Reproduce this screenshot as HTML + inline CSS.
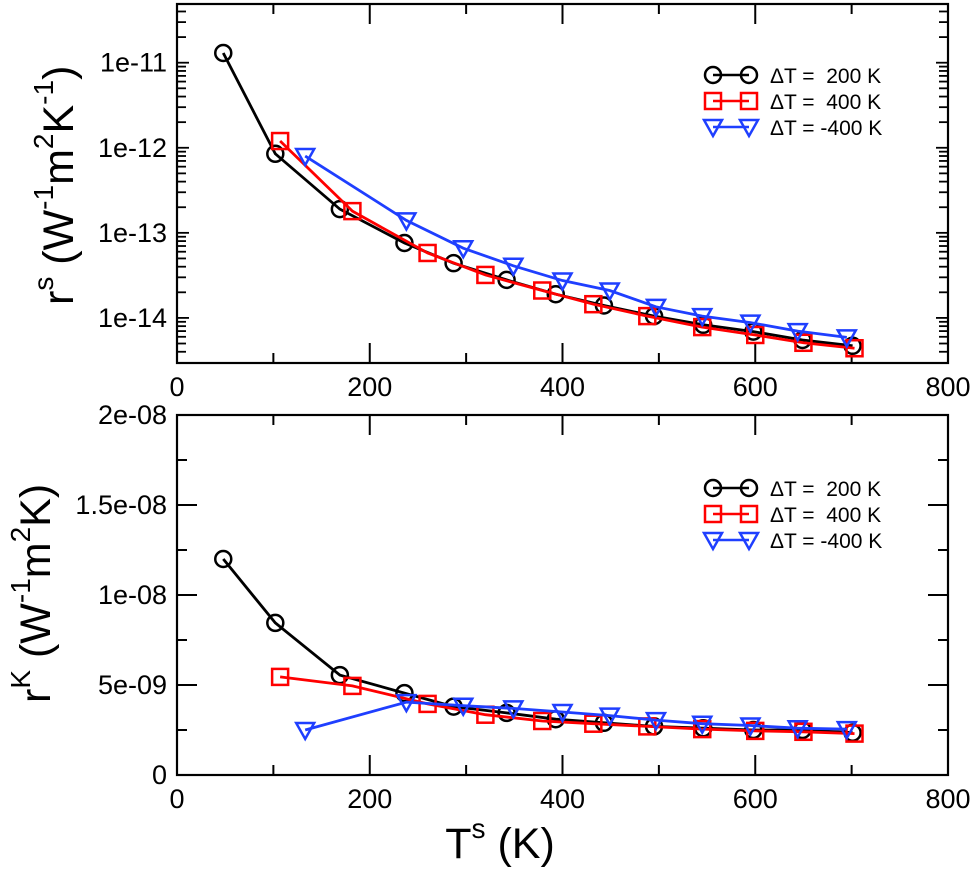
<!DOCTYPE html>
<html><head><meta charset="utf-8"><style>
html,body{margin:0;padding:0;background:#fff;}
svg{display:block;font-family:"Liberation Sans",Arial,sans-serif;}
text{white-space:pre;}
</style></head><body>
<svg id="chart" width="975" height="872" viewBox="0 0 975 872"></svg>
<script>
const xTicks=[0,200,400,600,800];
const xMinor=[100,300,500,700];
const topTickLabels=["1e-11","1e-12","1e-13","1e-14"];
const topTickExps=[-11,-12,-13,-14];
const botTickVals=[0,5e-9,1e-8,1.5e-8,2e-8];
const botTickLabels=["0","5e-09","1e-08","1.5e-08","2e-08"];
const legendLabels=["\u0394T =  200 K","\u0394T =  400 K","\u0394T = -400 K"];
const seriesColors=["#000","#f00","#1f3fff"];
const markerTypes=["circle","square","tri"];

const blackX=[48,102,169,236,287,342,393,443,495,546,598,649,701];
const blackTop=[1.3e-11,8.5e-13,1.9e-13,7.6e-14,4.4e-14,2.8e-14,1.9e-14,1.4e-14,1.05e-14,8.3e-15,6.9e-15,5.5e-15,4.7e-15];
const blackBot=[12.0e-9,8.45e-9,5.55e-9,4.55e-9,3.8e-9,3.45e-9,3.1e-9,2.9e-9,2.7e-9,2.6e-9,2.5e-9,2.5e-9,2.35e-9];
const redX=[107,182,260,320,379,432,488,545,600,650,703];
const redTop=[1.2e-12,1.8e-13,5.8e-14,3.2e-14,2.1e-14,1.45e-14,1.05e-14,7.8e-15,6.3e-15,5.1e-15,4.4e-15];
const redBot=[5.45e-9,4.95e-9,3.95e-9,3.35e-9,3.0e-9,2.85e-9,2.7e-9,2.55e-9,2.45e-9,2.4e-9,2.3e-9];
const blueX=[133,238,297,349,400,449,497,545,595,644,695];
const blueTop=[8e-13,1.4e-13,6.6e-14,4.1e-14,2.75e-14,2.1e-14,1.35e-14,1.05e-14,8.8e-15,7e-15,5.9e-15];
const blueBot=[2.5e-9,4.05e-9,3.85e-9,3.7e-9,3.5e-9,3.3e-9,3.05e-9,2.85e-9,2.75e-9,2.6e-9,2.55e-9];

const NS="http://www.w3.org/2000/svg";
const svg=document.getElementById('chart');
function mk(tag,attrs,parent){const e=document.createElementNS(NS,tag);for(const k in attrs)e.setAttribute(k,attrs[k]);(parent||svg).appendChild(e);return e;}
const X0=177,X1=948;
const xs=v=>X0+(v/800)*(X1-X0);
const T0=4,T1=363;
const topLogMax=-10.31,topLogMin=-14.53;
const ysTop=v=>T0+(topLogMax-Math.log10(v))/(topLogMax-topLogMin)*(T1-T0);
const B0=415,B1=775;
const ysBot=v=>B1-(v/2e-8)*(B1-B0);

function drawFrame(y0,y1,name){
  const r=mk('rect',{x:X0,y:y0,width:X1-X0,height:y1-y0,fill:'none',stroke:'#000','stroke-width':2.2});
  
  
  const g=mk('g',{stroke:'#000','stroke-width':2});
  
  
  xTicks.forEach(v=>{const x=xs(v);mk('line',{x1:x,x2:x,y1:y1,y2:y1-20},g);mk('line',{x1:x,x2:x,y1:y0,y2:y0+20},g);});
  xMinor.forEach(v=>{const x=xs(v);mk('line',{x1:x,x2:x,y1:y1,y2:y1-10},g);mk('line',{x1:x,x2:x,y1:y0,y2:y0+10},g);});
  xTicks.forEach(v=>{const t=mk('text',{x:xs(v),y:y1+33,'font-size':27,'text-anchor':'middle',fill:'#000'});t.textContent=String(v);
    
    });
}
drawFrame(T0,T1,'top-panel');
drawFrame(B0,B1,'bottom-panel');

const gy=mk('g',{stroke:'#000','stroke-width':1.8});


for(let e=-15;e<=-11;e++){for(let m=1;m<10;m++){const v=m*Math.pow(10,e);const y=ysTop(v);if(y<T0+1||y>T1-1)continue;const L=m===1?12:9;
  mk('line',{x1:X0,x2:X0+L,y1:y,y2:y},gy);mk('line',{x1:X1,x2:X1-L,y1:y,y2:y},gy);}}
topTickExps.forEach((e,i)=>{const t=mk('text',{x:167,y:ysTop(Math.pow(10,e))+9,'font-size':27,'text-anchor':'end',fill:'#000'});t.textContent=topTickLabels[i];
  
  });
const gb=mk('g',{stroke:'#000','stroke-width':2});


for(let k=0;k<=8;k++){const v=k*2.5e-9;const y=ysBot(v);const L=k%2===0?20:10;
  mk('line',{x1:X0,x2:X0+L,y1:y,y2:y},gb);mk('line',{x1:X1,x2:X1-L,y1:y,y2:y},gb);}
botTickVals.forEach((v,i)=>{const t=mk('text',{x:167,y:ysBot(v)+9,'font-size':27,'text-anchor':'end',fill:'#000'});t.textContent=botTickLabels[i];
  
  });

function marker(type,x,y,color,parent){
  if(type==='circle')return mk('circle',{cx:x,cy:y,r:8,fill:'none',stroke:color,'stroke-width':2.5},parent);
  if(type==='square')return mk('rect',{x:x-8,y:y-8,width:16,height:16,fill:'none',stroke:color,'stroke-width':2.5},parent);
  return mk('polygon',{points:`${x-9},${y-7} ${x+9},${y-7} ${x},${y+9}`,fill:'none',stroke:color,'stroke-width':2.5},parent);
}
function series(xv,yv,ys,idx,name){
  const g=mk('g',{});
  
  
  const pts=xv.map((x,i)=>xs(x)+','+ys(yv[i])).join(' ');
  mk('polyline',{points:pts,fill:'none',stroke:seriesColors[idx],'stroke-width':2.8},g);
  xv.forEach((x,i)=>{const m=marker(markerTypes[idx],xs(x),ys(yv[i]),seriesColors[idx],g);
    
    });
}
series(blackX,blackTop,ysTop,0,'top-series-200k');
series(redX,redTop,ysTop,1,'top-series-400k');
series(blueX,blueTop,ysTop,2,'top-series-neg400k');
series(blackX,blackBot,ysBot,0,'bottom-series-200k');
series(redX,redBot,ysBot,1,'bottom-series-400k');
series(blueX,blueBot,ysBot,2,'bottom-series-neg400k');

function legend(y0,name){
  const g=mk('g',{});
  
  
  legendLabels.forEach((lab,i)=>{const y=y0+i*26;
    mk('line',{x1:713,x2:749,y1:y,y2:y,stroke:seriesColors[i],'stroke-width':2.5},g);
    marker(markerTypes[i],713,y,seriesColors[i],g);marker(markerTypes[i],749,y,seriesColors[i],g);
    const t=mk('text',{x:770,y:y+8,'font-size':21,fill:'#000'},g);t.textContent=lab;
    
    });
}
legend(75,'top-legend');
legend(488,'bottom-legend');
</script>
<div style="position:absolute;left:0;top:0;width:975px;height:872px;pointer-events:none;">
<svg width="975" height="872" style="position:absolute;left:0;top:0">
<text transform="translate(73,305) rotate(-90)" font-size="43" fill="#000" font-family="Liberation Sans, sans-serif">r<tspan dy="-20" font-size="28">s</tspan><tspan dy="20"> (W</tspan><tspan dy="-20" font-size="28">-1</tspan><tspan dy="20">m</tspan><tspan dy="-20" font-size="28">2</tspan><tspan dy="20">K</tspan><tspan dy="-20" font-size="28">-1</tspan><tspan dy="20">)</tspan></text>
<text transform="translate(50,703) rotate(-90)" font-size="43" fill="#000" font-family="Liberation Sans, sans-serif">r<tspan dy="-20" font-size="28">K</tspan><tspan dy="20"> (W</tspan><tspan dy="-20" font-size="28">-1</tspan><tspan dy="20">m</tspan><tspan dy="-20" font-size="28">2</tspan><tspan dy="20">K)</tspan></text>
<text x="500" y="858" text-anchor="middle" font-size="43" fill="#000" font-family="Liberation Sans, sans-serif">T<tspan dy="-20" font-size="28">s</tspan><tspan dy="20"> (K)</tspan></text>
</svg>
</div>
</body></html>
